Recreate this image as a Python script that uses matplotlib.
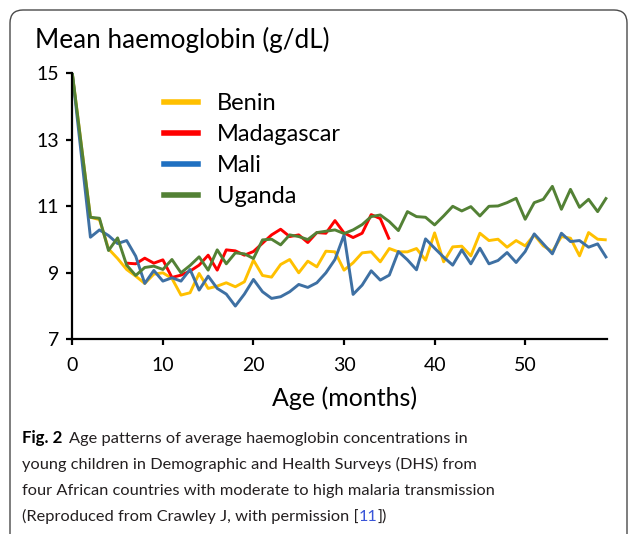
import matplotlib
matplotlib.use("Agg")
import matplotlib.pyplot as plt
from matplotlib.lines import Line2D
from matplotlib.patches import FancyBboxPatch
from matplotlib.transforms import IdentityTransform

# ---------------- data ----------------
ages = [0] + list(range(2, 60))
benin = [15.0, 10.67, 10.6, 9.72, 9.43, 9.1, 8.9, 8.68, 8.96, 9.0, 8.83, 8.33, 8.4, 8.98,
         8.53, 8.6, 8.7, 8.58, 8.73, 9.38, 8.92, 8.87, 9.25, 9.4, 9.0, 9.35, 9.18, 9.65,
         9.63, 9.08, 9.3, 9.6, 9.63, 9.33, 9.73, 9.63, 9.63, 9.73, 9.38, 10.2, 9.33, 9.78,
         9.8, 9.51, 10.19, 9.97, 10.01, 9.77, 9.97, 9.81, 10.14, 9.81, 9.64, 10.09, 10.04,
         9.51, 10.21, 10.01, 9.99]
mali = [15.0, 10.07, 10.29, 10.12, 9.88, 9.97, 9.5, 8.68, 9.07, 8.75, 8.85, 8.75, 9.1, 8.48,
        8.9, 8.53, 8.36, 8.0, 8.36, 8.8, 8.43, 8.23, 8.28, 8.43, 8.65, 8.56, 8.7, 9.0, 9.4,
        10.14, 8.35, 8.63, 9.06, 8.78, 8.93, 9.64, 9.39, 9.09, 10.02, 9.74, 9.47, 9.23, 9.69,
        9.27, 9.74, 9.27, 9.37, 9.61, 9.31, 9.64, 10.17, 9.87, 9.57, 10.19, 9.94, 9.97, 9.77,
        9.87, 9.44]
uganda = [15.0, 10.67, 10.64, 9.67, 10.05, 9.23, 8.92, 9.16, 9.2, 9.1, 9.4, 9.0, 9.22, 9.48,
          9.08, 9.69, 9.27, 9.6, 9.57, 9.43, 9.99, 10.01, 9.84, 10.14, 10.09, 10.0, 10.21,
          10.25, 10.29, 10.18, 10.29, 10.45, 10.69, 10.74, 10.54, 10.27, 10.84, 10.69, 10.67,
          10.44, 10.71, 11.0, 10.86, 10.99, 10.71, 11.0, 11.01, 11.11, 11.24, 10.61, 11.11,
          11.21, 11.6, 10.91, 11.51, 10.97, 11.21, 10.84, 11.27]
mada_ages = list(range(6, 36))
madagascar = [9.29, 9.27, 9.44, 9.29, 9.39, 8.86, 8.93, 9.05, 9.23, 9.53, 9.08, 9.69, 9.66,
              9.53, 9.64, 9.89, 10.14, 10.31, 10.09, 10.14, 9.91, 10.21, 10.19, 10.57, 10.2,
              10.06, 10.19, 10.75, 10.63, 10.0]

countries = ["Benin", "Madagascar", "Mali", "Uganda"]
line_colors = ["#FFC000", "#FF0000", "#3E70A3", "#538135"]
legend_colors = ["#FFC000", "#FF0000", "#1F70C1", "#538135"]
xticks = [0, 10, 20, 30, 40, 50]
yticks = [7, 9, 11, 13, 15]

W, H = 629, 534
FONT = "Lato"
CAPFONT = "Lato"

fig = plt.figure(figsize=(W / 100, H / 100), dpi=100)
fig.patch.set_facecolor("white")

def fx(x):
    return x / W

def fy(y):
    return 1 - y / H

# rounded frame
frame = FancyBboxPatch((10, -40), 617, 564, boxstyle="round,pad=0,rounding_size=13",
                       transform=IdentityTransform(), facecolor="none",
                       edgecolor="#4a4a4a", linewidth=1.0)
fig.patches.append(frame)

ax = fig.add_axes([fx(72.3), fy(339.3), fx(606.7) - fx(72.3), fy(73.3) - fy(339.3)])
series = [(ages, benin), (mada_ages, madagascar), (ages, mali), (ages, uganda)]
for (xs, ys), c in zip(series, line_colors):
    ax.plot(xs, ys, color=c, linewidth=2.1, solid_joinstyle="round", solid_capstyle="butt",
            clip_on=False)

ax.set_xlim(0, 59)
ax.set_ylim(7, 15)
ax.set_xticks(xticks)
ax.set_yticks(yticks)
for s in ["top", "right"]:
    ax.spines[s].set_visible(False)
for s in ["left", "bottom"]:
    ax.spines[s].set_linewidth(1.6)
    ax.spines[s].set_color("black")
ax.tick_params(axis="both", direction="out", length=4.5, width=1.6, color="black",
               labelsize=14, labelcolor="black")
ax.tick_params(axis="y", pad=5)
ax.tick_params(axis="x", pad=8.5)
for lab in ax.get_xticklabels() + ax.get_yticklabels():
    lab.set_fontfamily(FONT)

handles = [Line2D([], [], color=c, linewidth=4) for c in legend_colors]
leg = ax.legend(handles, countries, loc="upper left", bbox_to_anchor=(fx(164), fy(93.5)),
                bbox_transform=fig.transFigure, frameon=False,
                prop={"family": FONT, "size": 17}, handlelength=1.45, handletextpad=0.8,
                labelspacing=0.42, borderpad=0, borderaxespad=0)

fig.text(fx(35), fy(47.6), "Mean haemoglobin (g/dL)", family=FONT, fontsize=18.8,
         va="baseline", ha="left", color="black")
fig.text(fx(345), fy(406.5), "Age (months)", family=FONT, fontsize=18,
         va="baseline", ha="center", color="black")

# caption
renderer = fig.canvas.get_renderer()
cap_size = 11.8
cap_color = "#231f20"
x0 = 22
t = fig.text(fx(x0), fy(443), "Fig. 2", family=CAPFONT, fontsize=cap_size + 0.4,
             weight="bold", va="baseline", color="black")
bb = t.get_window_extent(renderer)
fig.text(bb.x1 / W + fx(7), fy(443),
         "Age patterns of average haemoglobin concentrations in",
         family=CAPFONT, fontsize=cap_size, va="baseline", color=cap_color)
fig.text(fx(x0), fy(469),
         "young children in Demographic and Health Surveys (DHS) from",
         family=CAPFONT, fontsize=cap_size, va="baseline", color=cap_color)
fig.text(fx(x0), fy(495),
         "four African countries with moderate to high malaria transmission",
         family=CAPFONT, fontsize=cap_size, va="baseline", color=cap_color)
t = fig.text(fx(x0), fy(521), "(Reproduced from Crawley J, with permission [",
             family=CAPFONT, fontsize=cap_size, va="baseline", color=cap_color)
bb = t.get_window_extent(renderer)
t = fig.text(bb.x1 / W, fy(521), "11", family=CAPFONT, fontsize=cap_size,
             va="baseline", color="#3a55d8")
bb = t.get_window_extent(renderer)
fig.text(bb.x1 / W, fy(521), "])", family=CAPFONT, fontsize=cap_size,
         va="baseline", color=cap_color)

fig.savefig("out.png", dpi=100, facecolor="white")
